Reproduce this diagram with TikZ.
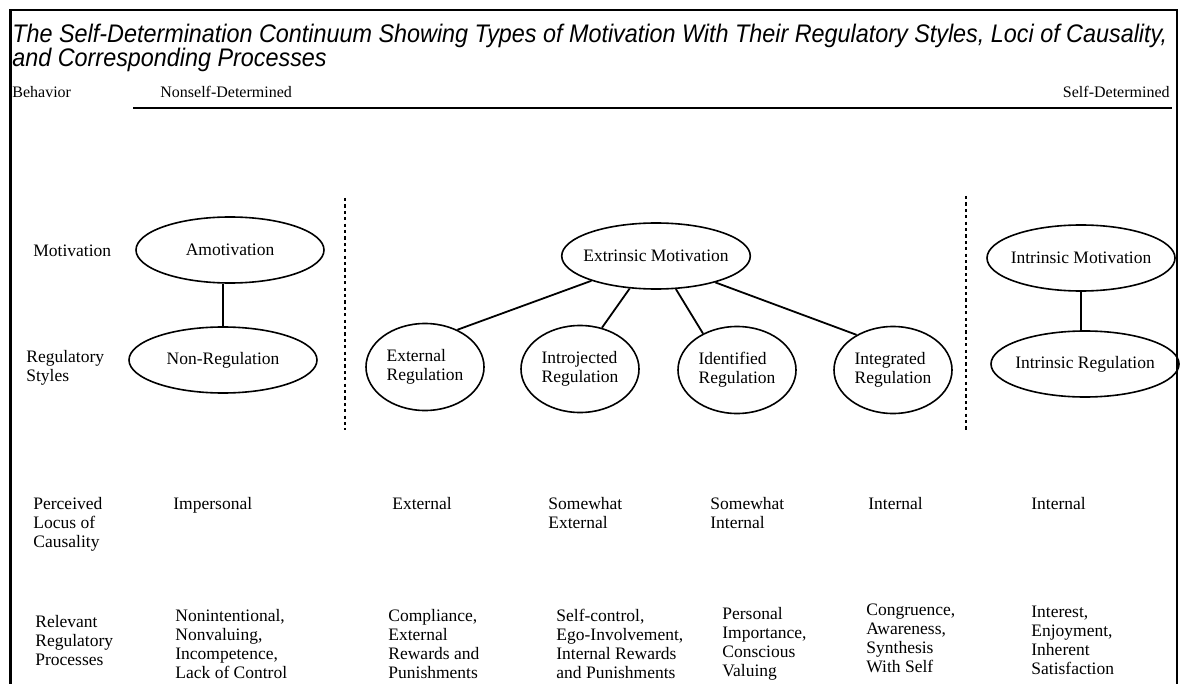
\documentclass[tikz,border=0pt]{standalone}
\usepackage{fontspec}
\setmainfont{Liberation Serif}
\newfontfamily\titlefont[FakeStretch=0.92]{Liberation Sans}
\newcommand\titlestyle{\titlefont\itshape\fontsize{12.7}{11.8}\selectfont\lineskiplimit=-10pt\relax}
\usetikzlibrary{shapes.geometric}

\tikzset{
  body/.style={font=\fontsize{8.75}{9.5}\selectfont, inner sep=0pt},
  small/.style={font=\fontsize{8}{9}\selectfont, inner sep=0pt},
  lbl/.style={body, anchor=north west, align=left},
  oval/.style={draw, ellipse, line width=0.8pt, body, align=left},
  wideoval/.style={oval, minimum width=94pt, minimum height=33pt, inner xsep=-3pt},
  smalloval/.style={oval, minimum width=59pt, minimum height=43.5pt},
  link/.style={line width=0.9pt},
  divider/.style={line width=0.8pt, dash pattern=on 1.6pt off 1.6pt},
}

\begin{document}
\begin{tikzpicture}[x=0.5pt,y=-0.5pt]
\useasboundingbox (0,0) rectangle (1182,684);
% frame, open at the bottom
\draw[line width=1pt] (10,10) -- (1177,10) -- (1177,684);
\draw[line width=1.5pt] (10,684) -- (10,9.5);

% title
\node[anchor=north west, inner sep=0pt, align=left, font=\titlestyle] (title) at (12,24)
  {The Self-Determination Continuum Showing Types of Motivation With Their Regulatory Styles, Loci of Causality,\\
   and Corresponding Processes};

% behavior axis
\node[small, anchor=north west] (behavior) at (12,86) {Behavior};
\node[small, anchor=north west] (nonself) at (160,86) {Nonself-Determined};
\node[small, anchor=north east] (selfdet) at (1170,86) {Self-Determined};
\coordinate (ruleL) at (133,108);
\coordinate (ruleR) at (1172,108);
\draw[line width=1.2pt] (ruleL) -- (ruleR);

% row labels
\node[lbl] (motlbl) at (33,245) {Motivation};
\node[lbl] (reglbl) at (26,350) {Regulatory\\Styles};
\node[lbl] (loclbl) at (33,497) {Perceived\\Locus of\\Causality};
\node[lbl] (proclbl) at (35,615) {Relevant\\Regulatory\\Processes};

% motivation types
\node[wideoval] (amot) at (230,250) {Amotivation};
\node[wideoval] (nonreg) at (223,360) {Non-Regulation};
\node[wideoval] (extmot) at (656,256) {Extrinsic Motivation};
\node[smalloval] (extreg) at (425,367) {External\\Regulation};
\node[smalloval] (introreg) at (580,369) {Introjected\\Regulation};
\node[smalloval] (identreg) at (737,370) {Identified\\Regulation};
\node[smalloval] (integreg) at (893,370) {Integrated\\Regulation};
\node[wideoval] (intmot) at (1081,258) {Intrinsic Motivation};
\node[wideoval] (intreg) at (1085,364) {Intrinsic Regulation};

\draw[link] (nonreg.north) -- (nonreg.north |- amot.south);
\draw[link] (extmot.201) -- (extreg.49);
\draw[link] (extmot.231) -- (introreg.62);
\draw[link] (extmot.301) -- (identreg.133);
\draw[link] (extmot.336) -- (integreg.136);
\draw[link] (intmot.south) -- (intmot.south |- intreg.north);

% dotted dividers
\coordinate (div1top) at (345,198);
\coordinate (div1bot) at (345,430);
\coordinate (div2top) at (966,196);
\coordinate (div2bot) at (966,430);
\draw[divider] (div1top) -- (div1bot);
\draw[divider] (div2top) -- (div2bot);

% locus of causality
\node[lbl] (loc1) at (173,497) {Impersonal};
\node[lbl] (loc2) at (392,497) {External};
\node[lbl] (loc3) at (548,497) {Somewhat\\External};
\node[lbl] (loc4) at (710,497) {Somewhat\\Internal};
\node[lbl] (loc5) at (868,497) {Internal};
\node[lbl] (loc6) at (1031,497) {Internal};

% regulatory processes
\node[lbl] (proc1) at (175,609) {Nonintentional,\\Nonvaluing,\\Incompetence,\\Lack of Control};
\node[lbl] (proc2) at (388,609) {Compliance,\\External\\Rewards and\\Punishments};
\node[lbl] (proc3) at (556,609) {Self-control,\\Ego-Involvement,\\Internal Rewards\\and Punishments};
\node[lbl] (proc4) at (722,607) {Personal\\Importance,\\Conscious\\Valuing};
\node[lbl] (proc5) at (866,604) {Congruence,\\Awareness,\\Synthesis\\With Self};
\node[lbl] (proc6) at (1031,606) {Interest,\\Enjoyment,\\Inherent\\Satisfaction};
\end{tikzpicture}
\end{document}
